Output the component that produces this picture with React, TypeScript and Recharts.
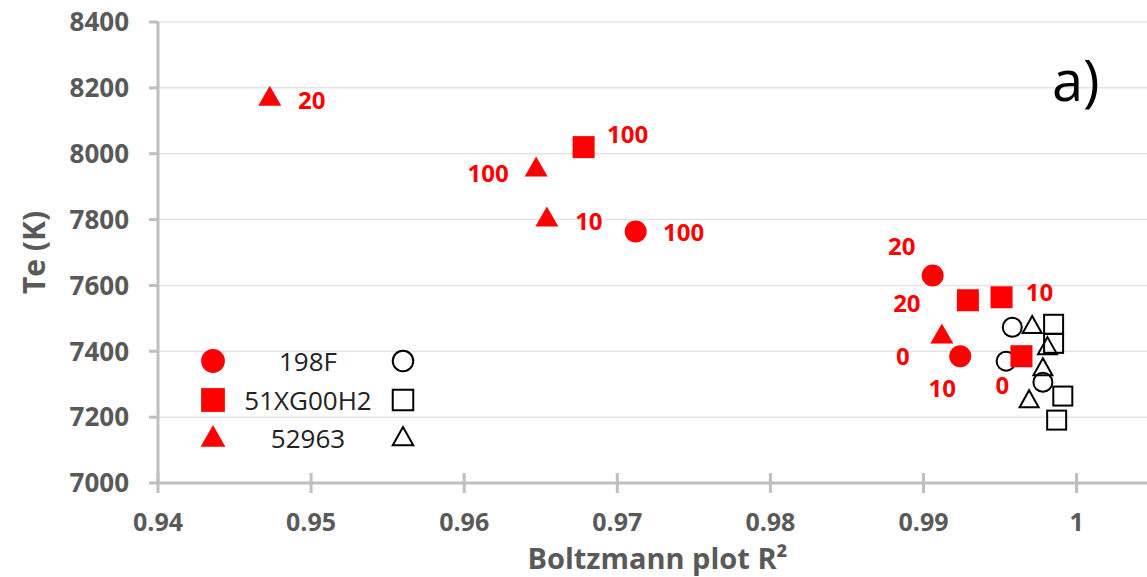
import React from 'react';
import { ScatterChart, Scatter, XAxis, YAxis, CartesianGrid, Label } from 'recharts';

// red = series with labels (value shown next to point), black = open markers
const circleRedX = [0.9712, 0.9906, 0.9924];
const circleRedY = [7764, 7630, 7385];
const circleRedLbl = ['100', '20', '10'];

const squareRedX = [0.9678, 0.9929, 0.9951, 0.9964];
const squareRedY = [8020, 7555, 7564, 7385];
const squareRedLbl = ['100', '20', '10', '0'];

const triRedX = [0.9473, 0.9647, 0.9654, 0.9912];
const triRedY = [8170, 7955, 7803, 7448];
const triRedLbl = ['20', '100', '10', '0'];

const circleOpenX = [0.9958, 0.9954, 0.9978];
const circleOpenY = [7473, 7370, 7306];

const squareOpenX = [0.9985, 0.9985, 0.9991, 0.9987];
const squareOpenY = [7482, 7424, 7264, 7191];

const triOpenX = [0.9971, 0.9981, 0.9978, 0.9969];
const triOpenY = [7476, 7412, 7348, 7251];

const xTicks = [0.94, 0.95, 0.96, 0.97, 0.98, 0.99, 1];
const yTicks = [7000, 7200, 7400, 7600, 7800, 8000, 8200, 8400];

const legendNames = ['198F', '51XG00H2', '52963'];

// label offsets relative to marker centre
const circleLblPos = [[48, 0], [-31, -30], [-18, 31]];
const squareLblPos = [[44, -14], [-61, 2], [38, -6], [-19, 28]];
const triLblPos = [[42, 2], [-48, 4], [42, 2], [-39, 20]];

const RED = '#ff0000';
const GRAY = '#595959';
const AXIS = '#bfbfbf';
const FONT = '"Open Sans", sans-serif';

const build = (xs: number[], ys: number[], lbls?: string[]) =>
  xs.map((x, i) => ({ x, y: ys[i], label: lbls ? lbls[i] : '' }));

const marker = (kind: string, cx: number, cy: number, filled: boolean, big = false) => {
  const fill = filled ? RED : 'none';
  const stroke = filled ? 'none' : '#000';
  const sw = filled ? 0 : 2;
  const k = big ? 1.08 : 1;
  const s = (filled ? 11 : 9.5) * k;
  if (kind === 'circle') return <circle cx={cx} cy={cy} r={(filled ? 11 : 9.5) * k} fill={fill} stroke={stroke} strokeWidth={sw} />;
  if (kind === 'square') return <rect x={cx - s} y={cy - s} width={s * 2} height={s * 2} fill={fill} stroke={stroke} strokeWidth={sw} />;
  const h = (filled ? 20 : 17) * k;
  const w = (filled ? 11.5 : 9.5) * k;
  return <polygon points={`${cx},${cy - h * 0.6} ${cx + w},${cy + h * 0.4} ${cx - w},${cy + h * 0.4}`} fill={fill} stroke={stroke} strokeWidth={sw} strokeLinejoin="miter" />;
};

const makeShape = (kind: string, filled: boolean, pos?: number[][]) => (props: any) => {
  const { cx, cy, payload, index } = props;
  const p = pos ? pos[index] || [0, 0] : [0, 0];
  return (
    <g>
      {marker(kind, cx, cy, filled)}
      {filled && payload.label && (
        <text x={cx + p[0]} y={cy + p[1]} textAnchor="middle" dominantBaseline="central" fill={RED} fontSize={24} fontWeight={700} fontFamily={FONT}>
          {payload.label}
        </text>
      )}
    </g>
  );
};

// x ticks cross the axis line on both sides
const XTick = (props: any) => {
  const { x, y, payload } = props;
  const axisY = y - 30;
  const v = payload.value;
  return (
    <g>
      <line x1={x} x2={x} y1={axisY - 10} y2={axisY + 10} stroke={AXIS} strokeWidth={3} />
      <text x={x} y={y} dy="0.71em" textAnchor="middle" fill={GRAY} fontSize={25} fontWeight={700} fontFamily={FONT}>
        {v === 1 ? '1' : v.toFixed(2)}
      </text>
    </g>
  );
};

const LegendIcon = ({ kind, filled }: { kind: string; filled: boolean }) => (
  <svg width={30} height={30}>{marker(kind, 15, 15, filled, true)}</svg>
);

export default function App() {
  const kinds = ['circle', 'square', 'triangle'];
  return (
    <div style={{ position: 'absolute', left: 0, top: 0, width: 1147, height: 577, background: '#fff', fontFamily: FONT }}>
      <ScatterChart width={1147} height={577} margin={{ top: 22, right: 0, left: 0, bottom: 0 }}>
        <CartesianGrid horizontal vertical={false} stroke="#e3e3e3" strokeWidth={1.5} />
        <XAxis type="number" dataKey="x" domain={[0.94, 1.0046]} ticks={xTicks} allowDataOverflow
          height={94} stroke={AXIS} strokeWidth={3} tickLine={false} tickSize={10} tickMargin={20}
          tick={<XTick />}>
          <Label content={({ viewBox }: any) => (
            <text x={viewBox.x + viewBox.width / 2 + 5} y={viewBox.y + 74} textAnchor="middle" dominantBaseline="central" fill={GRAY} fontSize={29} fontWeight={700} fontFamily={FONT}>
              Boltzmann plot R²
            </text>
          )} />
        </XAxis>
        <YAxis type="number" dataKey="y" domain={[7000, 8400]} ticks={yTicks} width={158}
          stroke={AXIS} strokeWidth={3} tickSize={9} tickMargin={20}
          tick={{ fill: GRAY, fontSize: 26, fontWeight: 700, fontFamily: FONT }}>
          <Label content={({ viewBox }: any) => {
            const cx = 33;
            const cy = viewBox.y + viewBox.height / 2;
            return (
              <text x={cx} y={cy} transform={`rotate(-90 ${cx} ${cy})`} textAnchor="middle" dominantBaseline="central" fill={GRAY} fontSize={30} fontWeight={700} fontFamily={FONT}>
                Te (K)
              </text>
            );
          }} />
        </YAxis>
        <Scatter data={build(circleOpenX, circleOpenY)} shape={makeShape('circle', false)} isAnimationActive={false} />
        <Scatter data={build(squareOpenX, squareOpenY)} shape={makeShape('square', false)} isAnimationActive={false} />
        <Scatter data={build(triOpenX, triOpenY)} shape={makeShape('triangle', false)} isAnimationActive={false} />
        <Scatter data={build(circleRedX, circleRedY, circleRedLbl)} shape={makeShape('circle', true, circleLblPos)} isAnimationActive={false} />
        <Scatter data={build(squareRedX, squareRedY, squareRedLbl)} shape={makeShape('square', true, squareLblPos)} isAnimationActive={false} />
        <Scatter data={build(triRedX, triRedY, triRedLbl)} shape={makeShape('triangle', true, triLblPos)} isAnimationActive={false} />
      </ScatterChart>

      <div style={{ position: 'absolute', left: 1052, top: 44, fontSize: 56, color: '#000', lineHeight: '70px' }}>a)</div>

      <div style={{ position: 'absolute', left: 198, top: 342 }}>
        {legendNames.map((name, i) => (
          <div key={name} style={{ display: 'flex', alignItems: 'center', height: 38.5 }}>
            <LegendIcon kind={kinds[i]} filled />
            <div style={{ width: 160, textAlign: 'center', fontSize: 26, color: '#222' }}>{name}</div>
            <LegendIcon kind={kinds[i]} filled={false} />
          </div>
        ))}
      </div>
    </div>
  );
}
